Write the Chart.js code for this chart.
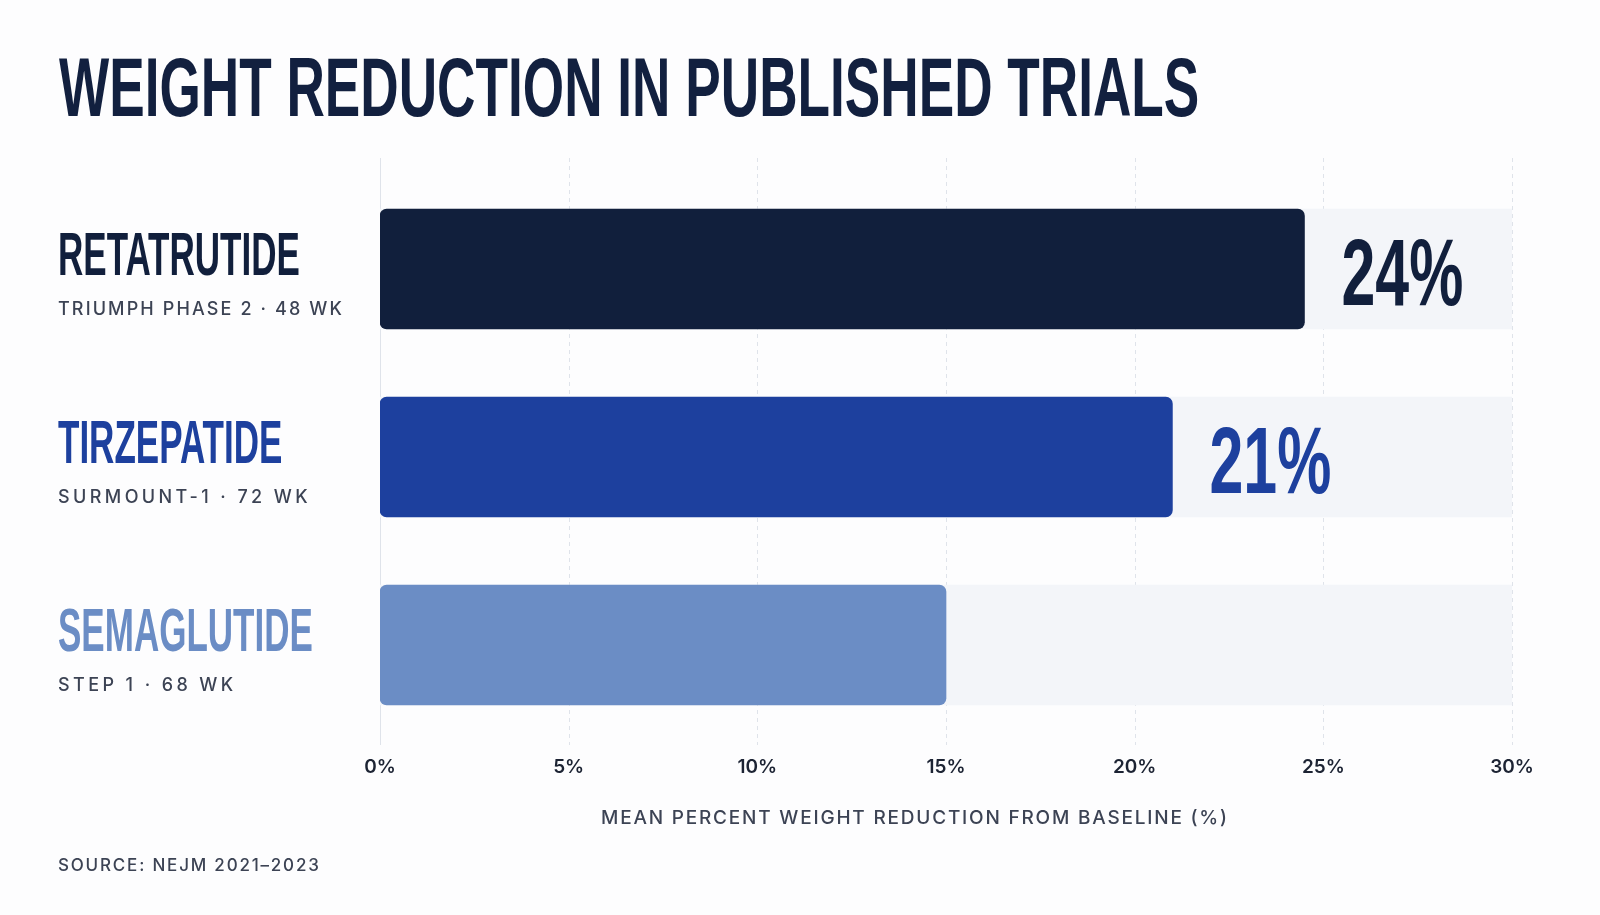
<!DOCTYPE html>
<html>
<head>
<meta charset="utf-8">
<title>Weight reduction in published trials</title>
<script src="https://cdn.jsdelivr.net/npm/chart.js@4.4.1/dist/chart.umd.min.js"></script>
<style>
  html, body { margin: 0; padding: 0; background: #fdfdfe; }
  #wrap { position: relative; width: 1600px; height: 915px; }
</style>
</head>
<body>
<div id="wrap"><canvas id="myChart" width="1600" height="915"></canvas></div>
<script>
// chart data
const drugs = ['RETATRUTIDE', 'TIRZEPATIDE', 'SEMAGLUTIDE'];
const trials = ['TRIUMPH PHASE 2 · 48 WK', 'SURMOUNT-1 · 72 WK', 'STEP 1 · 68 WK'];
const reduction = [24.5, 21, 15];
const valueLabels = ['24%', '21%', ''];
const axisMax = 30;
const tickStep = 5;

const titleText = 'WEIGHT REDUCTION IN PUBLISHED TRIALS';
const axisTitle = 'MEAN PERCENT WEIGHT REDUCTION FROM BASELINE (%)';
const sourceText = 'SOURCE: NEJM 2021–2023';

const barColors = ['#111f3c', '#1d409e', '#6b8dc5'];
const trackColor = '#f3f5f9';
const navy = '#12203f';
const grey = '#3c4354';
const gridColor = '#dfe3ea';

const COND = '"Liberation Sans Narrow", "Liberation Sans", sans-serif';
let narrowAdj = 1;

function checkNarrow(ctx) {
    // if the narrow face is missing we fall back to the normal one, squeeze a bit more
    ctx.save();
    ctx.font = 'bold 100px "Liberation Sans Narrow", "Liberation Sans"';
    const a = ctx.measureText('ABCDEFGH').width;
    ctx.font = 'bold 100px "Liberation Sans"';
    const b = ctx.measureText('ABCDEFGH').width;
    ctx.restore();
    narrowAdj = (Math.abs(a - b) < 1) ? 0.82 : 1;
}

function condensed(ctx, text, x, baseline, size, sx, color) {
    ctx.save();
    ctx.font = 'bold ' + size + 'px ' + COND;
    ctx.fillStyle = color;
    ctx.textAlign = 'left';
    ctx.textBaseline = 'alphabetic';
    ctx.translate(x, baseline);
    ctx.scale(sx * narrowAdj, 1);
    ctx.fillText(text, 0, 0);
    ctx.restore();
}

// letter-spaced text; tightens the spacing when it would run past maxW
function spaced(ctx, text, x, baseline, size, weight, spacing, color, maxW) {
    ctx.save();
    ctx.font = weight + ' ' + size + 'px Inter, "Noto Sans", sans-serif';
    ctx.letterSpacing = spacing + 'px';
    let w = ctx.measureText(text).width;
    if (maxW && w > maxW) {
        ctx.letterSpacing = (spacing - (w - maxW) / text.length) + 'px';
    }
    ctx.fillStyle = color;
    ctx.textAlign = 'left';
    ctx.textBaseline = 'alphabetic';
    ctx.fillText(text, x, baseline);
    ctx.restore();
}

const decor = {
    id: 'decor',
    beforeDraw(chart) {
        const ctx = chart.ctx;
        ctx.save();
        ctx.fillStyle = '#fdfdfe';
        ctx.fillRect(0, 0, chart.width, chart.height);
        ctx.restore();
    },
    beforeDatasetsDraw(chart) {
        // vertical grid lines, a bit longer than the chart area
        const ctx = chart.ctx;
        const x = chart.scales.x;
        const top = chart.chartArea.top - 17;
        const bottom = chart.chartArea.bottom + 6;
        ctx.save();
        ctx.strokeStyle = gridColor;
        ctx.lineWidth = 1;
        x.ticks.forEach(t => {
            const px = Math.round(x.getPixelForValue(t.value)) + 0.5;
            ctx.setLineDash(t.value === 0 ? [] : [4, 4]);
            ctx.beginPath();
            ctx.moveTo(px, top);
            ctx.lineTo(px, bottom);
            ctx.stroke();
        });
        ctx.restore();
    },
    afterDatasetsDraw(chart) {
        const ctx = chart.ctx;
        const meta = chart.getDatasetMeta(0);
        meta.data.forEach((bar, i) => {
            if (!valueLabels[i]) return;
            condensed(ctx, valueLabels[i], bar.x + 37, bar.y + 36, 94, 0.79, barColors[i]);
        });
    },
    afterDraw(chart) {
        const ctx = chart.ctx;
        const y = chart.scales.y;
        condensed(ctx, titleText, 59, 116, 84, 0.772, navy);
        drugs.forEach((name, i) => {
            const cy = y.getPixelForValue(i);
            condensed(ctx, name, 58, cy + 6, 61, 0.70, barColors[i]);
            spaced(ctx, trials[i], 58, cy + 46, 18, 500, 3.4, grey, 286);
        });
        spaced(ctx, axisTitle, 601, 824, 19, 500, 1.8, grey);
        spaced(ctx, sourceText, 58, 871, 17, 500, 1.8, grey);
    }
};

function buildChart() {
    const ctx = document.getElementById('myChart').getContext('2d');
    checkNarrow(ctx);

    new Chart(ctx, {
        type: 'bar',
        data: {
            labels: drugs,
            datasets: [
                {
                    label: 'Mean weight reduction',
                    data: reduction,
                    backgroundColor: barColors,
                    borderRadius: 7,
                    borderSkipped: false,
                    barThickness: 120,
                    grouped: false,
                    order: 1
                },
                {
                    // light track behind each bar, full scale
                    label: 'Track',
                    data: drugs.map(() => axisMax),
                    backgroundColor: trackColor,
                    borderRadius: 0,
                    barThickness: 120,
                    grouped: false,
                    order: 2
                }
            ]
        },
        options: {
            indexAxis: 'y',
            responsive: false,
            animation: false,
            layout: {
                padding: { left: 380, right: 88, top: 175, bottom: 126 }
            },
            scales: {
                x: {
                    min: 0,
                    max: axisMax,
                    ticks: {
                        stepSize: tickStep,
                        callback: v => v + '%',
                        color: '#1c2333',
                        font: { family: 'Inter', size: 19, weight: '600' },
                        padding: 17,
                        maxRotation: 0
                    },
                    grid: { display: false, drawTicks: false },
                    border: { display: false },
                    afterFit: s => { s.height = 50; }
                },
                y: {
                    display: false
                }
            },
            plugins: {
                legend: { display: false },
                tooltip: { enabled: false }
            }
        },
        plugins: [decor]
    });
}

Promise.all([
    document.fonts.load('600 19px Inter'),
    document.fonts.load('500 18px Inter'),
    document.fonts.load('bold 60px "Liberation Sans Narrow"')
]).then(buildChart, buildChart);
</script>
</body>
</html>
